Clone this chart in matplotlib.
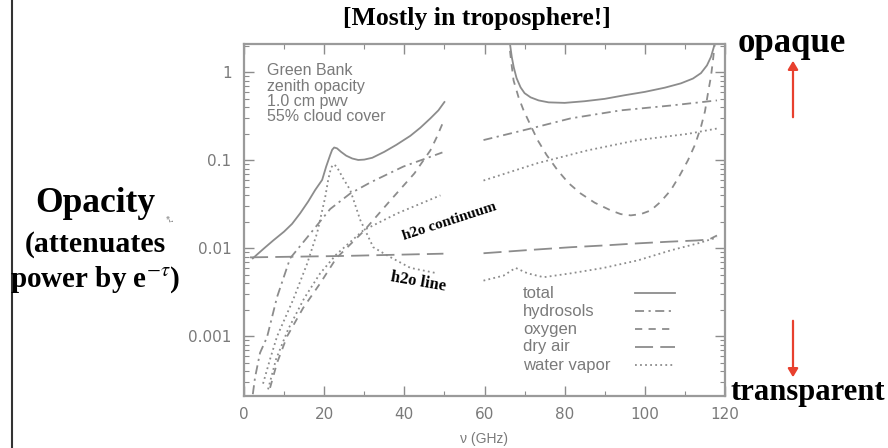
import numpy as np
import matplotlib
matplotlib.use("Agg")
import matplotlib.pyplot as plt
from matplotlib.lines import Line2D
from matplotlib.patches import FancyArrowPatch

nan = np.nan
plt.rcParams["mathtext.fontset"] = "stix"

# --- zenith opacity components, Green Bank (left block 0-50 GHz, right block 60-120 GHz) ---
total_ghz = [2.2, 3.5, 5, 7.3, 10, 12, 14, 16, 17.75, 19.5, 20.5, 21.5, 22.0, 22.5, 23.2, 24.2,
             25.5, 27, 28.5, 30, 32, 35, 38, 41.5, 44, 46.5, 48.5, 50, nan,
             66.3, 66.8, 67.3, 68, 69, 70, 71.5, 73.5, 76, 80, 85, 90, 95, 100, 105, 109, 112,
             114, 115.5, 116.5, 117.3, 117.8]
total_tau = [0.0077, 0.0087, 0.0100, 0.0123, 0.0155, 0.019, 0.025, 0.034, 0.046, 0.06, 0.085,
             0.115, 0.132, 0.14, 0.137, 0.125, 0.113, 0.105, 0.101, 0.102, 0.107, 0.125, 0.15,
             0.19, 0.235, 0.30, 0.37, 0.46, nan,
             2.2, 1.5, 1.14, 0.86, 0.675, 0.58, 0.52, 0.48, 0.456, 0.45, 0.47, 0.50, 0.55, 0.60,
             0.67, 0.75, 0.85, 0.98, 1.2, 1.5, 2.0, 2.6]

hydro_ghz = [2.2, 2.75, 4, 5.75, 8.25, 11.5, 15.75, 21.5, 26.5, 31.5, 39.75, 49.5, nan,
             59.75, 71.5, 81.5, 94, 106.5, 118]
hydro_tau = [2.2e-4, 3.4e-4, 6.5e-4, 9.8e-4, 0.0028, 0.0077, 0.0133, 0.028, 0.042, 0.056, 0.085,
             0.123, nan, 0.17, 0.23, 0.30, 0.37, 0.42, 0.48]

oxy_ghz = [6.5, 8.25, 10.75, 14.75, 19, 23, 29.75, 36.5, 42.5, 46.5, 48, 49.5, nan,
           66, 66.6, 67.25, 68.5, 69.75, 71.5, 73.25, 75.5, 78.25, 81, 84, 87.5, 91.5, 94, 96.5,
           99, 101.5, 104, 106.5, 108.75, 110.75, 112.5, 114, 115, 115.75, 116.5, 117, 117.6]
oxy_tau = [2.6e-4, 5e-4, 1e-3, 0.0021, 0.004, 0.0077, 0.0155, 0.035, 0.071, 0.13, 0.18, 0.26, nan,
           2.5, 1.4, 0.81, 0.52, 0.37, 0.25, 0.17, 0.115, 0.077, 0.055, 0.042, 0.033, 0.027,
           0.0245, 0.0237, 0.0245, 0.027, 0.034, 0.046, 0.068, 0.1, 0.15, 0.24, 0.36, 0.58, 0.9,
           1.37, 2.5]

dry_ghz = [1.5, 25, 49.75, nan, 59.75, 70, 81.5, 90, 98.25, 106, 113, 116, 118]
dry_tau = [0.0079, 0.0082, 0.0087, nan, 0.0088, 0.0095, 0.0103, 0.0108, 0.0114, 0.0119, 0.0123,
           0.0126, 0.014]

# water vapor: 22 GHz line plus wings, and the continuum
wv_line_ghz = [4.75, 6.5, 8.25, 12.25, 15.75, 18.25, 20.25, 21, 21.7, 22.3, 23, 23.8, 24.5, 26.5,
               29, 32.25, 35.75, 41.5, 48.25, nan,
               59.75, 64.75, 67.75, 70.75, 74.75, 81.5, 89.75, 98.25, 106.5, 113.25, 118]
wv_line_tau = [2.9e-4, 5.5e-4, 1e-3, 0.0026, 0.0067, 0.015, 0.038, 0.06, 0.082, 0.09, 0.086,
               0.075, 0.065, 0.046, 0.021, 0.0103, 0.0083, 0.006, 0.0052, nan,
               0.0043, 0.0049, 0.006, 0.0052, 0.0047, 0.0052, 0.006, 0.0073, 0.0095, 0.0114, 0.0133]

wv_cont_ghz = [6, 8, 11, 15, 19, 23, 29.75, 38.25, 49, nan, 59.75, 73.25, 85.75, 98.25, 110.75, 118]
wv_cont_tau = [2.5e-4, 5.5e-4, 0.0012, 0.0027, 0.0052, 0.0085, 0.016, 0.025, 0.04, nan,
               0.059, 0.093, 0.13, 0.17, 0.20, 0.23]

x_ticks = [0, 20, 40, 60, 80, 100, 120]
y_ticks = [0.001, 0.01, 0.1, 1]
y_tick_labels = ["0.001", "0.01", "0.1", "1"]
note_text = "Green Bank\nzenith opacity\n1.0 cm pwv\n55% cloud cover"
legend_labels = ["total", "hydrosols", "oxygen", "dry air", "water vapor"]

W, H = 888, 448
fig = plt.figure(figsize=(W / 100, H / 100), dpi=100)
ax = fig.add_axes([244 / W, 1 - 396 / H, (725 - 244) / W, (396 - 44) / H])

grey = "#8c8c8c"
txt_grey = "#7a7a7a"
lw = 1.3
styles = [
    dict(color=grey, lw=lw, linestyle="-"),
    dict(color=grey, lw=lw, dashes=(5, 2.5, 1.2, 2.5)),
    dict(color=grey, lw=lw, dashes=(4, 3.5)),
    dict(color=grey, lw=lw, dashes=(10, 4)),
    dict(color=grey, lw=lw, dashes=(1, 1.8)),
]
ax.plot(total_ghz, total_tau, **styles[0])
ax.plot(hydro_ghz, hydro_tau, **styles[1])
ax.plot(oxy_ghz, oxy_tau, **styles[2])
ax.plot(dry_ghz, dry_tau, **styles[3])
ax.plot(wv_line_ghz, wv_line_tau, **styles[4])
ax.plot(wv_cont_ghz, wv_cont_tau, **styles[4])

ax.set_yscale("log")
ax.set_xlim(0, 120)
ax.set_ylim(2.1e-4, 2.1)
ax.set_xticks(x_ticks)
ax.set_xticks(range(10, 120, 20), minor=True)
ax.set_yticks(y_ticks)
ax.set_yticklabels(y_tick_labels)
ax.tick_params(which="both", direction="in", top=True, right=True, color=grey,
               labelcolor=txt_grey, labelsize=11)
ax.tick_params(which="major", length=7, width=1)
ax.tick_params(which="minor", length=3.5, width=0.8)
ax.tick_params(axis="x", pad=8)
ax.tick_params(axis="y", pad=9)
for sp in ax.spines.values():
    sp.set_color("#9a9a9a")
    sp.set_linewidth(1.6)

ax.set_xlabel("\u03bd (GHz)", color=txt_grey, fontsize=10, labelpad=7,
              family="Liberation Sans")

ax.text(0.048, 0.945, note_text, transform=ax.transAxes, va="top", ha="left",
        fontsize=11.5, color=txt_grey, linespacing=1.03, family="Liberation Sans")

# key: label on the left, line sample on the right
for i, (lab, st) in enumerate(zip(legend_labels, styles)):
    yy = 1 - (293 + 18 * i) / H
    fig.text(523 / W, yy, lab, ha="left", va="center", fontsize=12, color=txt_grey,
             family="Liberation Sans")
    fig.add_artist(Line2D([635 / W, 675 / W], [yy, yy], transform=fig.transFigure, **st))

# annotations drawn over the chart
serif = "Liberation Serif"
fig.text(450 / W, 1 - 222 / H, "h2o continuum", rotation=18,
         ha="center", va="center", fontsize=11, fontweight="bold", family=serif)
fig.text(418 / W, 1 - 282 / H, "h2o line", rotation=-10,
         ha="center", va="center", fontsize=12, fontweight="bold", family=serif)

fig.text(477 / W, 1 - 18 / H, "[Mostly in troposphere!]", ha="center", va="center",
         fontsize=18.5, fontweight="bold", family=serif)

fig.text(95 / W, 1 - 204 / H, "Opacity", ha="center", va="center",
         fontsize=25.5, fontweight="bold", family=serif)
fig.text(95 / W, 1 - 245 / H, "(attenuates", ha="center", va="center",
         fontsize=21.5, fontweight="bold", family=serif)
fig.text(95 / W, 1 - 280 / H, r"power by e$^{-\tau}$)", ha="center", va="center",
         fontsize=21, fontweight="bold", family=serif)
fig.text(170 / W, 1 - 218 / H, r"$\tau$*", ha="center", va="center", rotation=90,
         fontsize=6, color="#777777")

fig.text(792 / W, 1 - 43 / H, "opaque", ha="center", va="center",
         fontsize=25, fontweight="bold", family=serif)
fig.text(808 / W, 1 - 392 / H, "transparent", ha="center", va="center",
         fontsize=22, fontweight="bold", family=serif)

red = "#e8402e"
fig.add_artist(FancyArrowPatch((793 / W, 1 - 120 / H), (793 / W, 1 - 58 / H),
                               transform=fig.transFigure,
                               arrowstyle="-|>,head_length=5,head_width=3", color=red, lw=1.6))
fig.add_artist(FancyArrowPatch((793 / W, 1 - 318 / H), (793 / W, 1 - 380 / H),
                               transform=fig.transFigure,
                               arrowstyle="-|>,head_length=5,head_width=3", color=red, lw=1.6))

# slide edge on the left
fig.add_artist(Line2D([12 / W, 12 / W], [0, 1], transform=fig.transFigure,
                      color="#333333", lw=1.5))

fig.savefig("out.png", dpi=100)
